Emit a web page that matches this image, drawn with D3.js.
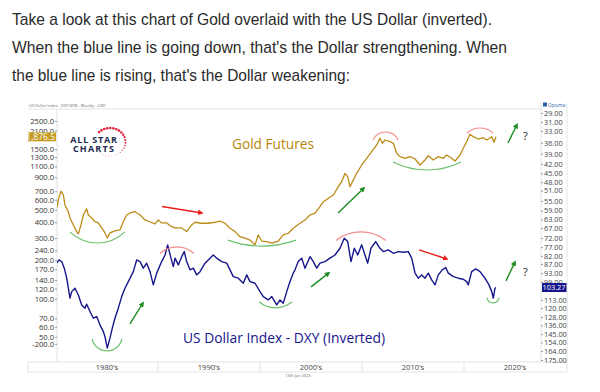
<!DOCTYPE html>
<html>
<head>
<meta charset="utf-8">
<script src="https://cdn.jsdelivr.net/npm/d3@7"></script>
<style>
  body { margin: 0; background: #fff; }
  svg { display: block; }
</style>
</head>
<body>
<div id="chart"></div>
<script>
// ---- data ----
const introLines = [
  "Take a look at this chart of Gold overlaid with the US Dollar (inverted).",
  "When the blue line is going down, that's the Dollar strengthening. When",
  "the blue line is rising, that's the Dollar weakening:"
];

const goldYears = [1980.07,1980.23,1980.49,1980.72,1980.88,1981.21,1981.37,1981.70,1982.03,1982.19,1982.45,1982.68,1983.01,1983.17,1983.50,1983.82,1984.15,1984.48,1984.80,1985.03,1985.29,1985.78,1986.27,1986.60,1986.93,1987.25,1987.75,1988.24,1988.73,1989.22,1989.71,1990.03,1990.36,1990.85,1991.34,1991.67,1992.32,1992.81,1993.30,1993.63,1994.28,1994.93,1995.59,1996.08,1996.57,1997.06,1997.55,1998.04,1998.53,1999.02,1999.51,1999.83,2000.17,2000.66,2001.15,2001.79,2002.28,2002.77,2003.26,2003.92,2004.41,2004.90,2005.39,2005.88,2006.21,2006.70,2007.19,2007.68,2008.01,2008.33,2008.60,2008.82,2009.15,2009.48,2009.97,2010.46,2010.95,2011.44,2011.76,2011.99,2012.25,2012.75,2013.07,2013.40,2013.73,2014.22,2014.71,2015.20,2015.69,2016.18,2016.50,2016.99,2017.48,2017.97,2018.30,2018.79,2019.12,2019.61,2019.93,2020.26,2020.59,2020.91,2021.40,2021.89,2022.23,2022.72,2022.94,2023.14];
const goldValues = [514,598,703,654,546,483,431,380,337,323,380,455,508,455,431,403,394,360,329,300,329,341,347,403,455,472,483,455,416,401,387,416,394,394,368,360,360,337,380,399,392,392,399,408,392,358,337,307,299,289,265,317,284,281,273,284,317,327,358,392,416,455,470,529,579,617,654,761,833,969,912,761,859,969,1127,1272,1434,1619,1828,1669,1772,1718,1669,1393,1310,1272,1310,1256,1127,1233,1333,1233,1310,1272,1350,1272,1211,1350,1524,1718,1965,1881,1804,1847,1772,1881,1700,1876.5];

const dxyYears = [1980.07,1980.29,1980.56,1980.81,1981.05,1981.21,1981.37,1981.54,1981.86,1982.19,1982.52,1982.84,1983.01,1983.33,1983.66,1983.99,1984.31,1984.64,1984.80,1985.03,1985.29,1985.52,1985.78,1986.11,1986.44,1986.76,1987.09,1987.58,1987.91,1988.24,1988.56,1988.89,1989.22,1989.54,1989.87,1990.36,1990.69,1990.95,1991.27,1991.50,1991.67,1991.99,1992.32,1992.58,1992.81,1993.14,1993.46,1993.79,1994.12,1994.61,1995.10,1995.42,1995.75,1996.25,1996.74,1997.06,1997.38,1997.87,1998.36,1998.70,1999.02,1999.51,2000.00,2000.32,2000.81,2001.15,2001.64,2001.96,2002.28,2002.62,2002.94,2003.26,2003.43,2003.75,2004.09,2004.41,2004.90,2005.23,2005.56,2005.88,2006.37,2006.86,2007.35,2007.84,2008.26,2008.60,2008.92,2009.25,2009.58,2009.97,2010.29,2010.56,2010.88,2011.34,2011.76,2012.09,2012.58,2013.07,2013.56,2014.05,2014.54,2014.87,2015.20,2015.52,2015.85,2016.18,2016.50,2016.83,2017.16,2017.48,2017.87,2018.21,2018.46,2018.95,2019.44,2019.93,2020.26,2020.42,2020.75,2021.15,2021.57,2022.06,2022.45,2022.72,2022.87,2023.04,2023.14];
const dxyValues = [86.5,84.5,85.5,89.7,96.5,103.8,111.6,106.4,103.8,109,117.2,120,116.6,123,129.1,127.6,135.5,142.3,147.6,160.5,149.3,138.8,129.1,120,110.3,103.8,98.9,92,84.5,85.5,89.7,86.5,92,101.3,93,85.5,81.5,75.7,83.4,88.7,83.4,87.6,82.5,79.5,85.5,90.8,89.7,94.2,92,86.5,83.4,81.5,83.4,85.5,86.5,90.8,95.4,96.5,100.1,94.2,98.9,100.1,106.4,110.3,113,110.3,117.2,113,115.7,106.4,98.9,93,90.8,85.5,83.4,89.7,82.5,85.5,89.7,86.5,85.5,83.4,81.5,77.6,72.1,73.9,85.5,77.6,81.5,75.7,81.5,86.5,77.6,73.9,77.6,79.5,78.5,80.5,79.5,79.9,79.5,83.4,93,96.5,94.2,96.5,93,97.7,101.3,94.2,90.8,89.3,93,95.4,96.5,97.2,98.9,101.3,92,90.2,92,96.5,101.3,106.4,111.6,103.8,103.27];

const goldTicks = [2500,2100,1500,1300,1100,900,700,600,500,400,300,240,200,170,140,120,100,70,60,50,44];
const goldTickLabels = ["2500.0","2100.0","1500.0","1300.0","1100.0","900.0","700.0","600.0","500.0","400.0","300.0","240.0","200.0","170.0","140.0","120.0","100.0","70.0","60.0","50.0","-200.0"];
const dxyTicks = [29,31,33,36,39,42,45,48,51,55,59,63,67,72,77,82,87,93,99,113,120,128,136,145,154,164,175];

const decadeStarts = [1980, 1990, 2000, 2010, 2020];
const decadeLabels = ["1980's", "1990's", "2000's", "2010's", "2020's"];

const goldLast = 1876.5;
const dxyLast = 103.27;

// annotations in data units: [fromYear, toYear, valueAtEnds, valueAtExtreme]
const goldArcs = [[1981.37,1986.76,335,274],[1996.86,2003.53,289,260],[2011.08,2013.53,1772,2048],[2013.04,2019.71,1190,1029],[2020.29,2022.84,2011,2203]];
const dxyArcs = [[1983.53,1986.47,150,163.7],[1990.20,1993.53,80.6,76.8],[1999.90,2003.14,114.6,119.7],[2007.45,2012.35,73.3,68.9],[2022.25,2023.43,111.4,115.5]];
// arrows: [fromYear, fromValue, toYear, toValue]
const goldArrows = [[1990.39,531,1994.31,472],[2007.65,472,2010.20,743],[2024.31,1678,2025.20,2347]];
const dxyArrows = [[1987.25,134.5,1988.53,115.5],[2005.0,102.8,2006.76,92.8],[2015.59,78.5,2018.33,83.9],[2024.12,98.4,2025.0,85.7]];
const questionMarks = [["gold", 2025.78, 1905], ["dxy", 2025.78, 92.2]];

// ---- layout ----
const W = 600, H = 392;
const plotLeft = 57, plotRight = 541, plotTop = 109, plotBottom = 362, bandBottom = 372;
const outerLeft = 28, outerRight = 567;
const goldColor = "#bb8c17", dxyColor = "#16168c";

const svg = d3.select("#chart").append("svg")
  .attr("width", W).attr("height", H)
  .style("font-family", "'Open Sans', sans-serif");

// intro paragraph
const introWidths = [480, 495, 338];
svg.selectAll(".intro").data(introLines).enter().append("text")
  .attr("class", "intro")
  .attr("x", 12)
  .attr("y", (d, i) => 25 + i * 28)
  .attr("textLength", (d, i) => introWidths[i])
  .attr("lengthAdjust", "spacingAndGlyphs")
  .style("font-family", "'Liberation Sans', Arial, sans-serif")
  .style("font-size", "17px")
  .attr("fill", "#2a2a2a")
  .text(d => d);

// scales
const x = d3.scaleLinear().domain([1980, 2020]).range([56, 464]);
const yGold = d3.scaleLog().domain([2500, 300]).range([121, 238]);
const yDxy = d3.scaleLog().domain([29, 175]).range([113, 360]);

// frame
const frame = svg.append("g").attr("stroke", "#e3e3e3").attr("fill", "none");
frame.append("line").attr("x1", outerLeft).attr("x2", plotRight).attr("y1", plotTop).attr("y2", plotTop);
frame.append("line").attr("x1", plotLeft).attr("x2", plotLeft).attr("y1", plotTop).attr("y2", plotBottom);
frame.append("line").attr("x1", plotRight).attr("x2", plotRight).attr("y1", plotTop - 6).attr("y2", plotBottom);
frame.append("line").attr("x1", outerRight).attr("x2", outerRight).attr("y1", plotTop - 6).attr("y2", bandBottom);
frame.append("line").attr("x1", outerLeft).attr("x2", outerRight).attr("y1", plotBottom).attr("y2", plotBottom);
frame.append("line").attr("x1", outerLeft).attr("x2", outerRight).attr("y1", bandBottom).attr("y2", bandBottom);
frame.append("line").attr("x1", outerLeft).attr("x2", outerLeft).attr("y1", plotBottom).attr("y2", bandBottom);

// tiny header and footer
svg.append("text").attr("x", outerLeft + 1).attr("y", 107)
  .style("font-size", "4px").attr("fill", "#666")
  .text("US Dollar Index - DXY.NYB - Weekly - USD");
svg.append("text").attr("x", 298).attr("y", 377).attr("text-anchor", "middle")
  .style("font-size", "4px").attr("fill", "#666")
  .text("13th Jan 2023");
svg.append("rect").attr("x", 543).attr("y", 102.5).attr("width", 4).attr("height", 4).attr("fill", "#2b5fa8");
svg.append("text").attr("x", 548).attr("y", 106.5)
  .style("font-size", "4.5px").attr("fill", "#2b5fa8").text("Optuma");

// decade band
decadeStarts.forEach((d, i) => {
  if (i > 0) {
    svg.append("line").attr("x1", x(d)).attr("x2", x(d))
      .attr("y1", plotBottom).attr("y2", bandBottom).attr("stroke", "#e3e3e3");
  }
  svg.append("text").attr("x", x(d + 5)).attr("y", 370)
    .attr("text-anchor", "middle").style("font-size", "7.5px").attr("fill", "#444")
    .text(decadeLabels[i]);
});

// left axis (gold)
const leftAxis = d3.axisLeft(yGold).tickValues(goldTicks)
  .tickFormat((d, i) => goldTickLabels[i]).tickSize(2).tickPadding(1);
svg.append("g").attr("transform", `translate(${plotLeft},0)`).call(leftAxis)
  .call(g => g.select(".domain").remove())
  .call(g => g.selectAll("line").attr("stroke", "#999"))
  .call(g => g.selectAll("text").style("font-size", "7.6px").attr("fill", "#333")
    .style("font-family", "'Open Sans', sans-serif"));

// right axis (dxy, inverted)
const rightAxis = d3.axisRight(yDxy).tickValues(dxyTicks)
  .tickFormat(d3.format(".2f")).tickSize(2).tickPadding(1);
svg.append("g").attr("transform", `translate(${plotRight},0)`).call(rightAxis)
  .call(g => g.select(".domain").remove())
  .call(g => g.selectAll("line").attr("stroke", "#999"))
  .call(g => g.selectAll("text").style("font-size", "7.3px").attr("fill", "#444")
    .style("font-family", "'Open Sans', sans-serif"));

// last-value boxes
svg.append("clipPath").attr("id", "leftClip").append("rect")
  .attr("x", outerLeft).attr("y", plotTop).attr("width", plotLeft - outerLeft).attr("height", plotBottom - plotTop);
const gl = svg.append("g").attr("clip-path", "url(#leftClip)");
gl.append("rect").attr("x", outerLeft).attr("y", yGold(goldLast) - 4.5)
  .attr("width", plotLeft - outerLeft - 1).attr("height", 9).attr("fill", "#c49a1f");
gl.append("text").attr("x", plotLeft - 2).attr("y", yGold(goldLast)).attr("dy", "0.35em")
  .attr("text-anchor", "end").style("font-size", "8.5px").attr("fill", "#fff")
  .text(d3.format(",.1f")(goldLast));

svg.append("rect").attr("x", plotRight + 1).attr("y", yDxy(dxyLast) - 4.5)
  .attr("width", outerRight - plotRight - 1.5).attr("height", 9).attr("fill", dxyColor);
svg.append("text").attr("x", plotRight + 1.5).attr("y", yDxy(dxyLast)).attr("dy", "0.35em")
  .attr("textLength", 23).attr("lengthAdjust", "spacingAndGlyphs")
  .style("font-size", "8px").attr("fill", "#fff")
  .text(d3.format(".2f")(dxyLast));

// series lines
svg.append("clipPath").attr("id", "plotClip").append("rect")
  .attr("x", plotLeft).attr("y", plotTop).attr("width", plotRight - plotLeft).attr("height", plotBottom - plotTop);
const plot = svg.append("g").attr("clip-path", "url(#plotClip)");

const goldLine = d3.line().x((d, i) => x(goldYears[i])).y(d => yGold(d));
const dxyLine = d3.line().x((d, i) => x(dxyYears[i])).y(d => yDxy(d));

plot.append("path").datum(goldValues).attr("d", goldLine)
  .attr("fill", "none").attr("stroke", goldColor).attr("stroke-width", 1.3).attr("stroke-linejoin", "round");
plot.append("path").datum(dxyValues).attr("d", dxyLine)
  .attr("fill", "none").attr("stroke", dxyColor).attr("stroke-width", 1.4).attr("stroke-linejoin", "round");

// series titles
svg.append("text").attr("x", 232).attr("y", 149)
  .attr("textLength", 82).attr("lengthAdjust", "spacingAndGlyphs")
  .style("font-size", "14.5px").attr("fill", "#b8860b").text("Gold Futures");
svg.append("text").attr("x", 183).attr("y", 343)
  .attr("textLength", 202).attr("lengthAdjust", "spacingAndGlyphs")
  .style("font-size", "14.5px").attr("fill", dxyColor).text("US Dollar Index - DXY (Inverted)");

// logo
const logo = svg.append("g");
d3.range(24).forEach(i => {
  const a = (-135 + i * 11.5) * Math.PI / 180;
  logo.append("circle")
    .attr("cx", 110 + 15.5 * Math.cos(a)).attr("cy", 142 + 14 * Math.sin(a))
    .attr("r", i < 9 ? 1.3 : Math.max(0.35, 1.3 - (i - 8) * 0.1))
    .attr("fill", "#e0203a");
});
logo.append("text").attr("x", 94).attr("y", 143).attr("text-anchor", "middle")
  .style("font-size", "9px").style("font-weight", "700").style("letter-spacing", "0.8px")
  .attr("fill", "#1c2b4f").text("ALL STAR");
logo.append("text").attr("x", 94).attr("y", 151.5).attr("text-anchor", "middle")
  .style("font-size", "9px").style("font-weight", "700").style("letter-spacing", "1.2px")
  .attr("fill", "#1c2b4f").text("CHARTS");

// annotations
const defs = svg.append("defs");
const arrowColors = { red: "#ec1f1f", green: "#1f8c22" };
Object.entries(arrowColors).forEach(([k, c]) => {
  defs.append("marker").attr("id", "ah-" + k)
    .attr("viewBox", "0 0 10 10").attr("refX", 7).attr("refY", 5)
    .attr("markerWidth", 4).attr("markerHeight", 4).attr("orient", "auto")
    .append("path").attr("d", "M0,0L10,5L0,10z").attr("fill", c);
});

function arcPath(sc, a) {
  const x0 = x(a[0]), x1 = x(a[1]), yE = sc(a[2]), yX = sc(a[3]);
  const c = (x1 - x0) / 2, s = Math.abs(yX - yE);
  const r = (c * c + s * s) / (2 * s);
  const sweep = yX > yE ? 0 : 1;
  const large = s > c ? 1 : 0;
  return `M${x0},${yE}A${r},${r} 0 ${large} ${sweep} ${x1},${yE}`;
}

const ann = svg.append("g").attr("fill", "none");
[[yGold, goldArcs], [yDxy, dxyArcs]].forEach(([sc, list]) => {
  list.forEach(a => {
    const low = sc(a[3]) > sc(a[2]);
    ann.append("path").attr("d", arcPath(sc, a))
      .attr("stroke", low ? "#6cc06c" : "#f28a8a").attr("stroke-width", 1.2);
  });
});
[[yGold, goldArrows], [yDxy, dxyArrows]].forEach(([sc, list]) => {
  list.forEach(a => {
    const up = sc(a[3]) < sc(a[1]);
    ann.append("line")
      .attr("x1", x(a[0])).attr("y1", sc(a[1])).attr("x2", x(a[2])).attr("y2", sc(a[3]))
      .attr("stroke", up ? arrowColors.green : arrowColors.red).attr("stroke-width", 1.4)
      .attr("marker-end", `url(#ah-${up ? "green" : "red"})`);
  });
});
questionMarks.forEach(q => {
  const sc = q[0] === "gold" ? yGold : yDxy;
  svg.append("text").attr("x", x(q[1])).attr("y", sc(q[2])).attr("dy", "0.35em")
    .style("font-size", "11px").attr("fill", "#222").text("?");
});
</script>
</body>
</html>
